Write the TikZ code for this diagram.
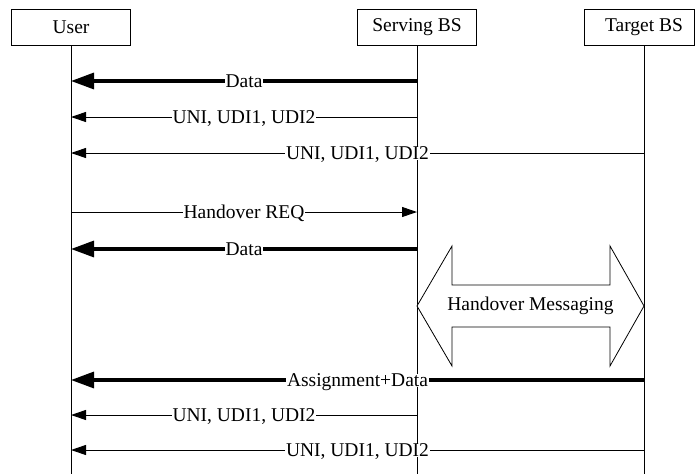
\documentclass[tikz,border=0pt]{standalone}
\usepackage{fontspec}
\setmainfont{Liberation Serif}
\usetikzlibrary{arrows.meta}
\tikzset{
  actor/.style={draw, line width=0.8pt, minimum width=119pt, minimum height=36pt, inner sep=0pt},
  lifeline/.style={line width=0.9pt},
  thickmsg/.style={line width=3.2pt, -{Triangle[length=23pt,width=16pt]}},
  thinmsg/.style={line width=1pt, -{Triangle[length=15pt,width=10pt]}},
  lbl/.style={fill=white, inner xsep=1pt, inner ysep=0pt, text height=13pt, text depth=0pt, anchor=center},
}
\begin{document}
\begin{tikzpicture}[x=1pt, y=-1pt, every node/.style={font=\fontsize{19.5}{23}\selectfont}]
\useasboundingbox (0,0) rectangle (695,474);
% actors
\node[actor] (user) at (71,27) {User};
\node[actor] (serv) at (417,27) {Serving BS};
\node[actor, minimum width=110pt] (targ) at (639,27) {\hspace*{10pt}Target BS};
% lifeline coordinates
\coordinate (uT) at (71,45);  \coordinate (uB) at (71,474);
\coordinate (sT) at (417,45); \coordinate (sB) at (417,474);
\coordinate (tT) at (644,45); \coordinate (tB) at (644,474);
\draw[lifeline] (uT) -- (uB);
\draw[lifeline] (sT) -- (sB);
\draw[lifeline] (tT) -- (tB);
% messages
\draw[thickmsg] (sT |- 0,81) -- node[lbl] (m1) {Data} (uT |- 0,81);
\draw[thinmsg] (sT |- 0,117) -- node[lbl] (m2) {UNI, UDI1, UDI2} (uT |- 0,117);
\draw[thinmsg] (tT |- 0,153) -- node[lbl] (m3) {UNI, UDI1, UDI2} (uT |- 0,153);
\draw[thinmsg] (uT |- 0,212) -- node[lbl] (m4) {Handover REQ} (sT |- 0,212);
\draw[thickmsg] (sT |- 0,249) -- node[lbl] (m5) {Data} (uT |- 0,249);
% handover messaging block arrow
\draw[line width=0.8pt, fill=white] (417,306) -- (452,246) -- (452,285) -- (610,285) -- (610,246) -- (644,306)
  -- (610,366) -- (610,327) -- (452,327) -- (452,366) -- cycle;
\node (hm) at (530.5,306) {Handover Messaging};
\draw[thickmsg] (tT |- 0,380) -- node[lbl] (m7) {Assignment+Data} (uT |- 0,380);
\draw[thinmsg] (sT |- 0,415) -- node[lbl] (m8) {UNI, UDI1, UDI2} (uT |- 0,415);
\draw[thinmsg] (tT |- 0,450) -- node[lbl] (m9) {UNI, UDI1, UDI2} (uT |- 0,450);
\end{tikzpicture}
\end{document}
